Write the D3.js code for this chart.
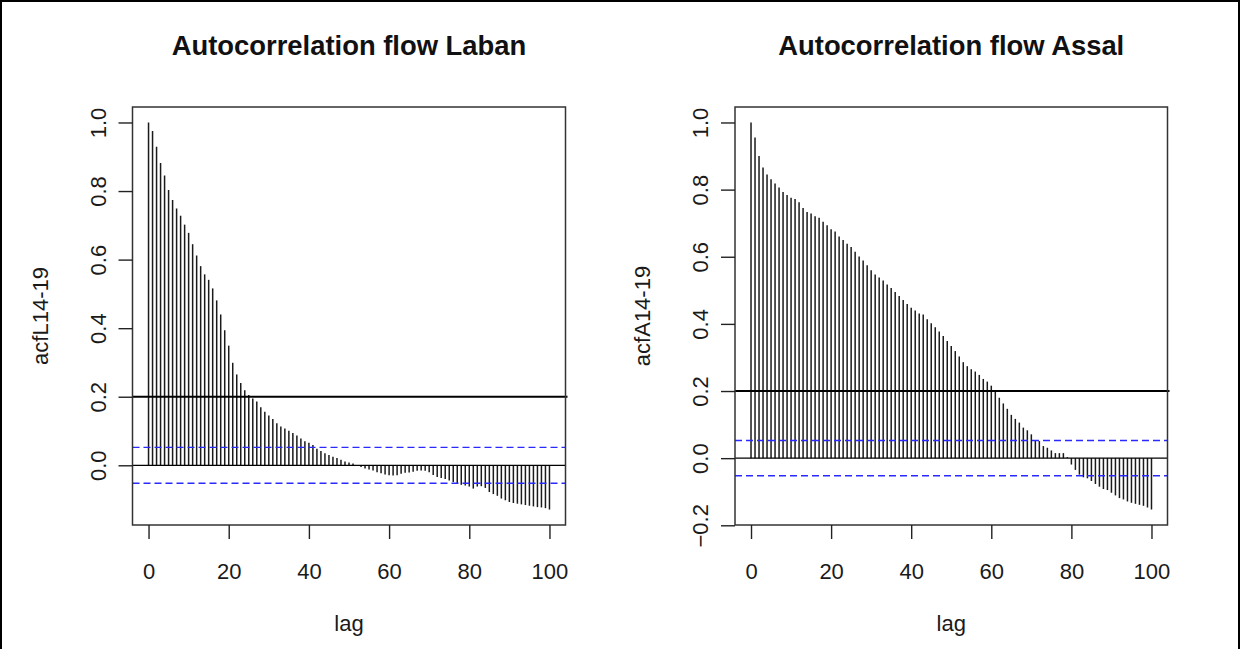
<!DOCTYPE html>
<html>
<head>
<meta charset="utf-8">
<script src="https://cdn.jsdelivr.net/npm/d3@7"></script>
<style>
  body { margin: 0; background: #fff; }
  svg { display: block; font-family: "Liberation Sans", Arial, sans-serif; }
</style>
</head>
<body>
<div id="chart"></div>
<script>
// lag index 0..100 for both series
var lags = d3.range(0, 101);

// acf values
var acfLaban = [
  1.000, 0.975, 0.929, 0.882, 0.845, 0.803, 0.774, 0.749, 0.728, 0.702,
  0.678, 0.645, 0.612, 0.581, 0.557, 0.541, 0.516, 0.481, 0.440, 0.394,
  0.349, 0.299, 0.265, 0.240, 0.219, 0.205, 0.195, 0.186, 0.169, 0.156,
  0.145, 0.135, 0.123, 0.113, 0.107, 0.101, 0.094, 0.087, 0.078, 0.070,
  0.066, 0.059, 0.048, 0.042, 0.035, 0.030, 0.025, 0.021, 0.016, 0.011,
  0.008, 0.005, 0.001, -0.005, -0.009, -0.012, -0.015, -0.020, -0.023, -0.027,
  -0.029, -0.030, -0.029, -0.025, -0.022, -0.021, -0.019, -0.016, -0.015, -0.016,
  -0.020, -0.028, -0.034, -0.037, -0.040, -0.044, -0.049, -0.053, -0.057, -0.059,
  -0.062, -0.068, -0.062, -0.061, -0.066, -0.078, -0.084, -0.089, -0.097, -0.102,
  -0.107, -0.110, -0.112, -0.114, -0.116, -0.118, -0.120, -0.122, -0.123, -0.125,
  -0.129
];

var acfAssal = [
  1.000, 0.955, 0.900, 0.866, 0.845, 0.831, 0.818, 0.806, 0.793, 0.784,
  0.776, 0.772, 0.762, 0.745, 0.733, 0.729, 0.721, 0.716, 0.704, 0.694,
  0.682, 0.675, 0.660, 0.650, 0.639, 0.629, 0.615, 0.601, 0.589, 0.575,
  0.560, 0.547, 0.538, 0.529, 0.517, 0.507, 0.495, 0.483, 0.471, 0.459,
  0.448, 0.440, 0.431, 0.428, 0.414, 0.402, 0.390, 0.377, 0.364, 0.349,
  0.334, 0.319, 0.303, 0.286, 0.274, 0.265, 0.258, 0.248, 0.236, 0.228,
  0.216, 0.203, 0.180, 0.163, 0.147, 0.129, 0.117, 0.106, 0.091, 0.083,
  0.071, 0.054, 0.051, 0.036, 0.031, 0.023, 0.015, 0.015, 0.015, 0.003,
  -0.019, -0.035, -0.049, -0.057, -0.060, -0.068, -0.077, -0.085, -0.092, -0.095,
  -0.103, -0.111, -0.119, -0.123, -0.129, -0.133, -0.136, -0.139, -0.142, -0.147,
  -0.153
];

var titles = ["Autocorrelation flow Laban", "Autocorrelation flow Assal"];
var yLabels = ["acfL14-19", "acfA14-19"];
var xTicks = [0, 20, 40, 60, 80, 100];
var yTicksL = [0, 0.2, 0.4, 0.6, 0.8, 1.0];
var yTicksA = [-0.2, 0, 0.2, 0.4, 0.6, 0.8, 1.0];
var ciBound = 0.0524;   // blue dashed band
var refLevel = 0.2;     // black abline

(function() {
    var W = 1240, H = 649;
    var plotTop = 107, plotBottom = 525;
    var font = '"Liberation Sans", Arial, sans-serif';

    var svg = d3.select('#chart').append('svg')
        .attr('width', W)
        .attr('height', H);

    svg.append('rect').attr('width', W).attr('height', H).attr('fill', '#fff');

    // outer frame
    svg.append('path')
        .attr('d', 'M1,' + H + 'V1H' + (W - 1) + 'V' + H)
        .attr('fill', 'none')
        .attr('stroke', '#000')
        .attr('stroke-width', 2);

    var panels = [
        { left: 132.5, right: 565.5, acf: acfLaban, yTicks: yTicksL, title: titles[0], ylab: yLabels[0] },
        { left: 735, right: 1167.5, acf: acfAssal, yTicks: yTicksA, title: titles[1], ylab: yLabels[1] }
    ];

    panels.forEach(function(p) {
        var g = svg.append('g');

        var xScale = d3.scaleLinear().domain([-4, 104]).range([p.left, p.right]);
        var lo = Math.min(d3.min(p.acf), -ciBound), hi = d3.max(p.acf);
        var pad = (hi - lo) * 0.04;
        var yScale = d3.scaleLinear().domain([lo - pad, hi + pad]).range([plotBottom, plotTop]);

        // bars (type = "h")
        g.selectAll('line.bar')
            .data(lags)
            .enter()
            .append('line')
            .attr('class', 'bar')
            .attr('x1', d => xScale(d))
            .attr('x2', d => xScale(d))
            .attr('y1', yScale(0))
            .attr('y2', d => yScale(p.acf[d]))
            .attr('stroke', '#1a1a1a')
            .attr('stroke-width', 1.5);

        // zero line
        g.append('line')
            .attr('x1', p.left).attr('x2', p.right)
            .attr('y1', yScale(0)).attr('y2', yScale(0))
            .attr('stroke', '#000').attr('stroke-width', 1.3);

        // confidence band
        [ciBound, -ciBound].forEach(function(v) {
            g.append('line')
                .attr('x1', p.left).attr('x2', p.right)
                .attr('y1', yScale(v)).attr('y2', yScale(v))
                .attr('stroke', '#2a2aff')
                .attr('stroke-width', 1.4)
                .attr('stroke-dasharray', '7,4');
        });

        // reference line at 0.2
        g.append('line')
            .attr('x1', p.left).attr('x2', p.right + 2)
            .attr('y1', yScale(refLevel)).attr('y2', yScale(refLevel))
            .attr('stroke', '#000').attr('stroke-width', 2);

        // box
        g.append('rect')
            .attr('x', p.left).attr('y', plotTop)
            .attr('width', p.right - p.left).attr('height', plotBottom - plotTop)
            .attr('fill', 'none')
            .attr('stroke', '#333')
            .attr('stroke-width', 1.5);

        // x axis
        var xAxis = d3.axisBottom(xScale).tickValues(xTicks).tickSizeInner(14).tickSizeOuter(0).tickPadding(24);
        var xAxisGroup = g.append('g').attr('transform', 'translate(0,' + plotBottom + ')').call(xAxis);
        xAxisGroup.select('.domain').remove();
        xAxisGroup.selectAll('line').attr('stroke', '#222').attr('stroke-width', 1.4);
        xAxisGroup.selectAll('text').attr('fill', '#1a1a1a').attr('font-size', 22).attr('font-family', font);

        // y axis with rotated labels
        var yAxis = d3.axisLeft(yScale).tickValues(p.yTicks).tickSizeInner(14).tickSizeOuter(0).tickFormat(d3.format('.1f'));
        var yAxisGroup = g.append('g').attr('transform', 'translate(' + p.left + ',0)').call(yAxis);
        yAxisGroup.select('.domain').remove();
        yAxisGroup.selectAll('line').attr('stroke', '#222').attr('stroke-width', 1.4);
        yAxisGroup.selectAll('text')
            .attr('x', null).attr('dy', null)
            .attr('fill', '#1a1a1a').attr('font-size', 22).attr('font-family', font)
            .attr('text-anchor', 'middle')
            .attr('transform', 'translate(-27,0) rotate(-90)');

        // titles and labels
        var cx = (p.left + p.right) / 2;
        g.append('text')
            .attr('x', cx).attr('y', 55)
            .attr('text-anchor', 'middle')
            .attr('font-size', 27.4).attr('font-weight', 'bold')
            .attr('fill', '#111')
            .text(p.title);

        g.append('text')
            .attr('x', cx).attr('y', 631)
            .attr('text-anchor', 'middle')
            .attr('font-size', 22).attr('fill', '#1a1a1a')
            .text('lag');

        g.append('text')
            .attr('transform', 'translate(' + (p.left - 85) + ',' + ((plotTop + plotBottom) / 2) + ') rotate(-90)')
            .attr('text-anchor', 'middle')
            .attr('font-size', 22).attr('fill', '#1a1a1a')
            .text(p.ylab);
    });
})();
</script>
</body>
</html>
